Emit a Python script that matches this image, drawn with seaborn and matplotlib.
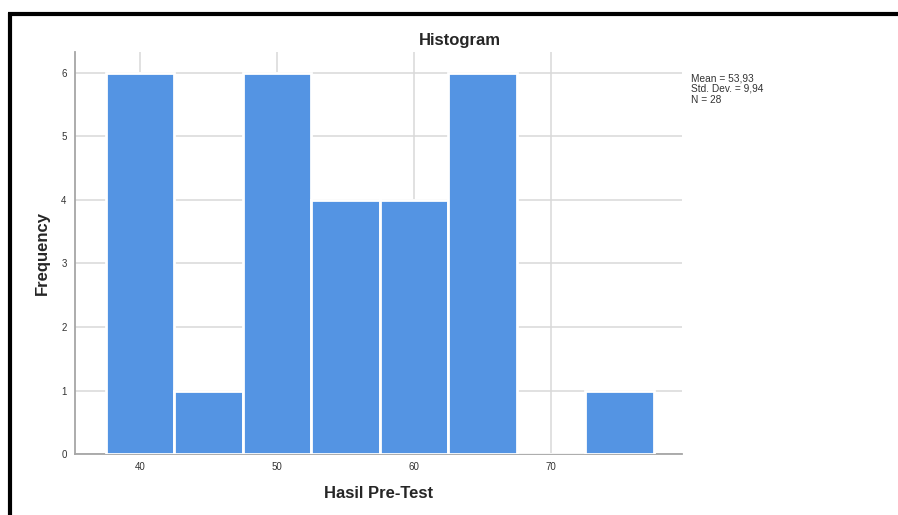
import numpy as np
import pandas as pd
import matplotlib
matplotlib.use('Agg')
import matplotlib.pyplot as plt
import seaborn as sns
from matplotlib.lines import Line2D

# Данные гистограммы (центры интервалов и частоты)
bin_centers = [40, 45, 50, 55, 60, 65, 70, 75]
counts = [6, 1, 6, 4, 4, 6, 0, 1]
bin_edges = [37.5, 42.5, 47.5, 52.5, 57.5, 62.5, 67.5, 72.5, 77.5]
x_ticks = [40, 50, 60, 70]
y_ticks = [0, 1, 2, 3, 4, 5, 6]
stats_lines = ['Mean = 53,93', 'Std. Dev. = 9,94', 'N = 28']

df = pd.DataFrame({'nilai': bin_centers, 'n': counts})

sns.set_style('white')
plt.rcParams['font.family'] = ['Liberation Sans', 'DejaVu Sans']

fig = plt.figure(figsize=(8.98, 5.15), dpi=100)
ax = fig.add_axes([0.0835, 0.1184, 0.676, 0.7806])

sns.histplot(data=df, x='nilai', weights='n', bins=bin_edges, ax=ax,
             color='#5494E3', alpha=1, edgecolor='white', linewidth=2, zorder=3)

ax.set_xlim(35.25, 79.55)
ax.set_ylim(0, 6.33)
ax.set_xticks(x_ticks)
ax.set_yticks(y_ticks)
ax.grid(True, color='#d9d9d9', linewidth=1.1, zorder=0)
ax.set_axisbelow(True)
for s in ['top', 'right']:
    ax.spines[s].set_visible(False)
for s in ['left', 'bottom']:
    ax.spines[s].set_color('#a6a6a6')
    ax.spines[s].set_linewidth(1.3)
ax.tick_params(length=0, labelsize=7, colors='#333333', pad=6)
ax.set_xlabel('Hasil Pre-Test', fontsize=12, fontweight='bold', labelpad=10)
ax.set_ylabel('Frequency', fontsize=12, fontweight='bold', labelpad=8)

fig.text(0.512, 0.921, 'Histogram', ha='center', va='center',
         fontsize=12, fontweight='bold')
fig.text(0.769, 0.858, '\n'.join(stats_lines), ha='left', va='top',
         fontsize=7.3, color='#333333', linespacing=1.1)

# Рамка вокруг рисунка
fig.add_artist(Line2D([8 / 898, 1], [1 - 14.5 / 515] * 2, transform=fig.transFigure,
                      color='black', linewidth=3, solid_capstyle='butt'))
fig.add_artist(Line2D([10 / 898] * 2, [0, 1 - 13 / 515], transform=fig.transFigure,
                      color='black', linewidth=3, solid_capstyle='butt'))

fig.savefig('out.png', dpi=100)
